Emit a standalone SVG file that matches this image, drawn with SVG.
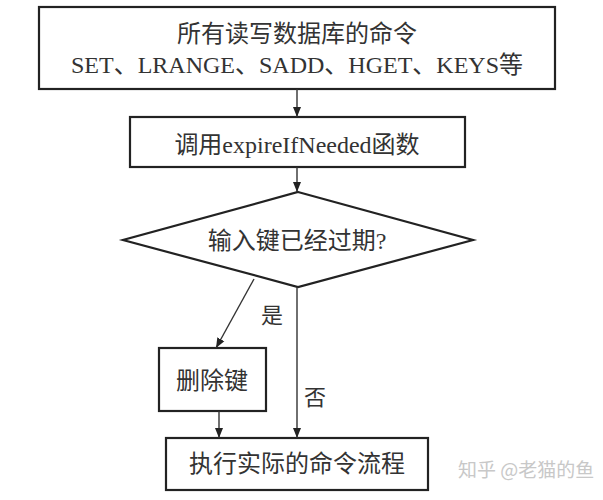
<svg xmlns="http://www.w3.org/2000/svg" width="603" height="500" viewBox="0 0 603 500">
<defs>
<style>
.box{fill:#fff;stroke:#222;stroke-width:2.2}
.t{font-family:"Liberation Serif","Noto Sans CJK SC",serif;font-size:24px;fill:#333;text-anchor:middle}
.c{stroke:#333;stroke-width:1.4;fill:none}
.wm{font-family:"Noto Sans CJK SC",sans-serif;font-size:19px;fill:#c8c8c8}
</style>
<marker id="ah" viewBox="0 0 10 10" refX="10" refY="5" markerWidth="10" markerHeight="10" markerUnits="userSpaceOnUse" orient="auto">
<path d="M0,1 L10,5 L0,9 Z" fill="#222"/>
</marker>
</defs>
<rect width="603" height="500" fill="#fff"/>
<g id="n1">
<rect class="box" x="39" y="7" width="516" height="82"/>
<text class="t" x="297" y="42">所有读写数据库的命令</text>
<text class="t" x="297" y="73">SET、LRANGE、SADD、HGET、KEYS等</text>
</g>
<g id="n2">
<rect class="box" x="130" y="117" width="335" height="50"/>
<text class="t" x="297" y="153">调用expireIfNeeded函数</text>
</g>
<g id="n3">
<polygon class="box" points="298,192 473,240 298,287 123,240"/>
<text class="t" x="297" y="249">输入键已经过期?</text>
</g>
<g id="n4">
<rect class="box" x="159" y="348" width="107" height="63"/>
<text class="t" x="212" y="389">删除键</text>
</g>
<g id="n5">
<rect class="box" x="166" y="438" width="262" height="52"/>
<text class="t" x="297" y="472">执行实际的命令流程</text>
</g>
<g id="connectors">
<line class="c" x1="297" y1="89" x2="297" y2="117" marker-end="url(#ah)"/>
<line class="c" x1="297" y1="167" x2="297" y2="192" marker-end="url(#ah)"/>
<line class="c" x1="254" y1="279" x2="216" y2="348" marker-end="url(#ah)"/>
<line class="c" x1="297" y1="287" x2="297" y2="438" marker-end="url(#ah)"/>
<line class="c" x1="219" y1="411" x2="219" y2="438" marker-end="url(#ah)"/>
<text class="t" x="272" y="323" style="font-size:22px">是</text>
<text class="t" x="315" y="405" style="font-size:22px">否</text>
</g>
<text class="wm" x="458" y="477">知乎 @老猫的鱼</text>
</svg>
